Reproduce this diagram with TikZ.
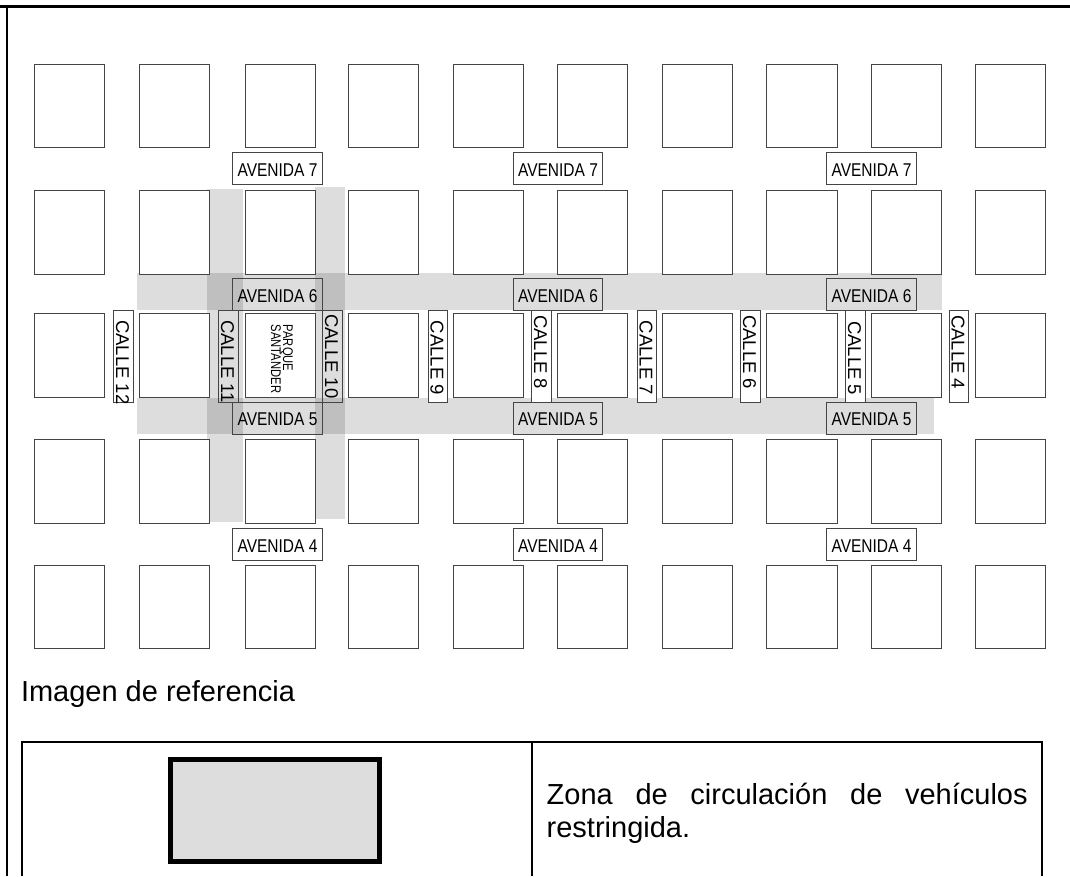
\documentclass[tikz,border=0pt]{standalone}
\usepackage{fontspec}
\setmainfont{Liberation Sans}
\usepackage{graphicx}
\definecolor{zone}{HTML}{DDDDDD}
\definecolor{edge}{HTML}{444444}
\tikzset{x=1pt,y=-1pt,
  block/.style={draw=edge,line width=0.9pt,fill=white},
  band/.style={fill=zone,draw=none,blend mode=multiply},
  avelabel/.style={draw=edge,line width=0.9pt,minimum width=89.5pt,minimum height=32pt,inner sep=0pt,anchor=center},
  avetext/.style={inner sep=0pt,font=\fontsize{18.5}{20}\selectfont},
  callelabel/.style={draw=edge,line width=0.9pt,minimum width=19.2pt,minimum height=92pt,inner sep=0pt,anchor=center},
  calletext/.style={inner sep=0pt,rotate=-90,anchor=west,font=\fontsize{18.5}{20}\selectfont},
  whitelabel/.style={fill=white}
}
\newcommand{\avetxt}[1]{\scalebox{0.838}[1]{AVENIDA #1}}
\begin{document}
\begin{tikzpicture}
\useasboundingbox (0,0) rectangle (1070,876);
% labels outside the zones
\foreach \nm/\cx in {a/277.5,b/558,c/871.5}{
  \node[avelabel,whitelabel] (a7\nm) at (\cx,168.3) {};
  \node[avetext] (t7\nm) at ([yshift=-1.7pt]a7\nm.center) {\avetxt{7}};
  \node[avelabel,whitelabel] (a4\nm) at (\cx,544.2) {};
  \node[avetext] (t4\nm) at ([yshift=-1.5pt]a4\nm.center) {\avetxt{4}};
}
% zones
\fill[band] (137,273) rectangle (942,310);
\fill[band] (137,398) rectangle (934,434);
\fill[band] (207,189) rectangle (243,522);
\fill[band] (315,187) rectangle (345,519);
% blocks
\foreach \xa/\xb in {34/104,139/209,245/315,348/418,453/523,557/627,662/732,766/837,871/941.5,975/1045.5}{
  \foreach \ya/\yb in {64/147.5,190/274,313/397,439/523.3,565.7/648.5}{
    \draw[block] (\xa,\ya) rectangle (\xb,\yb);
  }
}
% park
\node[inner sep=0pt,rotate=-90,font=\fontsize{14}{13}\selectfont] (park) at (280,359) {\scalebox{0.8}[1]{\begin{tabular}{@{}l@{}}PARQUE\\[-1.7pt]SANTANDER\end{tabular}}};
% calle labels
\foreach \nm/\cx/\ty/\wt in {12/123.5/320/white,11/228.5/320/none,10/332.5/314/none,9/438/320.7/white,8/541.5/315/white,7/647/320.7/white,6/750.5/315/white,5/855.5/321/white,4/959/315/white}{
  \node[callelabel,fill=\wt] (c\nm) at (\cx,356) {};
  \node[calletext] (ct\nm) at ([xshift=-1pt]c\nm.center |- 0,\ty) {CALLE \nm};
}
% avenue labels on zones
\foreach \nm/\cx in {a/277.5,b/558,c/871.5}{
  \node[avelabel] (a6\nm) at (\cx,294.5) {};
  \node[avetext] (t6\nm) at ([yshift=-2pt]a6\nm.center) {\avetxt{6}};
  \node[avelabel] (a5\nm) at (\cx,418) {};
  \node[avetext] (t5\nm) at ([yshift=-1.5pt]a5\nm.center) {\avetxt{5}};
}
% frame
\draw[black,line width=2.7pt] (0,6.3) -- (1070,6.3);
\draw[black,line width=2pt] (6.7,6.3) -- (6.7,876);
% caption
\node[anchor=base west,inner sep=0pt,font=\fontsize{29}{33}\selectfont] (cap) at (20.8,701.7) {Imagen de referencia};
% table
\draw[black,line width=2pt] (22,876) -- (22,741.7) -- (1042,741.7) -- (1042,876);
\draw[black,line width=2pt] (531.5,741.7) -- (531.5,876);
\draw[black,line width=5pt,fill=zone] (170.5,759.5) rectangle (379.5,861.5);
\node[anchor=north west,inner sep=0pt,text width=481pt,align=justify,font=\fontsize{29}{33}\selectfont] (txt) at (546.5,783) {Zona de circulación de vehículos\linebreak restringida.};
\end{tikzpicture}
\end{document}
